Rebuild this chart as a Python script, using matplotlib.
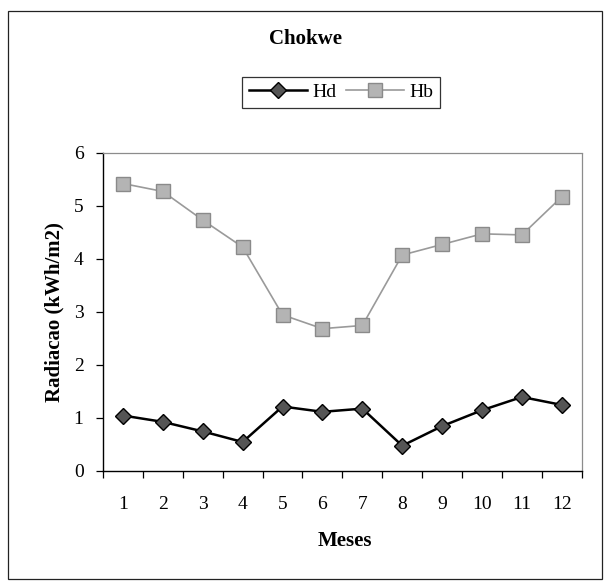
import matplotlib.pyplot as plt
from matplotlib.patches import Rectangle

months = [1, 2, 3, 4, 5, 6, 7, 8, 9, 10, 11, 12]
hd = [1.04, 0.92, 0.74, 0.54, 1.21, 1.11, 1.17, 0.47, 0.84, 1.14, 1.39, 1.24]
hb = [5.42, 5.27, 4.73, 4.22, 2.94, 2.68, 2.74, 4.07, 4.27, 4.47, 4.45, 5.17]
month_labels = [str(m) for m in months]
y_ticks = [0, 1, 2, 3, 4, 5, 6]

plt.rcParams['font.family'] = ['Liberation Serif', 'DejaVu Serif']

fig = plt.figure(figsize=(6.06, 5.81), dpi=100)
fig.patch.set_facecolor('white')

# thin frame round the whole chart
fig.patches.append(Rectangle((0.014, 0.004), 0.979, 0.977, transform=fig.transFigure,
                             fill=False, edgecolor='#222222', linewidth=0.9))

ax = fig.add_axes([0.170, 0.190, 0.790, 0.547])

ax.plot(months, hd, color='black', linewidth=1.8, marker='D', markersize=8,
        markerfacecolor='#555555', markeredgecolor='black', markeredgewidth=1.0, label='Hd')
ax.plot(months, hb, color='#9a9a9a', linewidth=1.2, marker='s', markersize=10.5,
        markerfacecolor='#b4b4b4', markeredgecolor='#8a8a8a', markeredgewidth=1.0, label='Hb')

ax.set_xlim(0.5, 12.5)
ax.set_ylim(0, 6)

# category ticks sit between months, labels centred on each month
ax.set_xticks([m + 0.5 for m in [0] + months])
ax.set_xticklabels([])
ax.set_xticks(months, minor=True)
ax.set_xticklabels(month_labels, minor=True, fontsize=14)
ax.tick_params(axis='x', which='major', direction='out', length=5, width=0.9, color='black')
ax.tick_params(axis='x', which='minor', length=0, pad=18.5)

ax.set_yticks(y_ticks)
ax.set_yticklabels([str(v) for v in y_ticks], fontsize=14)
ax.tick_params(axis='y', direction='out', length=5, width=0.9, pad=9)

for side in ['left', 'bottom']:
    ax.spines[side].set_color('black')
    ax.spines[side].set_linewidth(1.0)
for side in ['top', 'right']:
    ax.spines[side].set_color('#8c8c8c')
    ax.spines[side].set_linewidth(0.9)
    ax.spines[side].set_linestyle((0, (1.5, 1)))

ax.set_ylabel('Radiacao (kWh/m2)', fontsize=15, fontweight='bold', va='center')
ax.yaxis.set_label_coords(-0.102, 0.5)
ax.set_xlabel('Meses', fontsize=15, fontweight='bold', va='center')
ax.xaxis.set_label_coords(0.505, -0.221)

fig.text(305 / 606, 1 - 39 / 581, 'Chokwe', ha='center', va='center',
         fontsize=15, fontweight='bold')

leg = ax.legend(loc='center', bbox_to_anchor=(341 / 606, 1 - 92.5 / 581),
                bbox_transform=fig.transFigure, ncol=2, fontsize=14, frameon=True,
                fancybox=False, shadow=False, handlelength=3.0, handletextpad=0.25,
                columnspacing=0.5, borderpad=0.35, borderaxespad=0)
leg.get_frame().set_edgecolor('black')
leg.get_frame().set_linewidth(0.9)

fig.savefig('out.png', dpi=100, facecolor='white')
plt.close(fig)
